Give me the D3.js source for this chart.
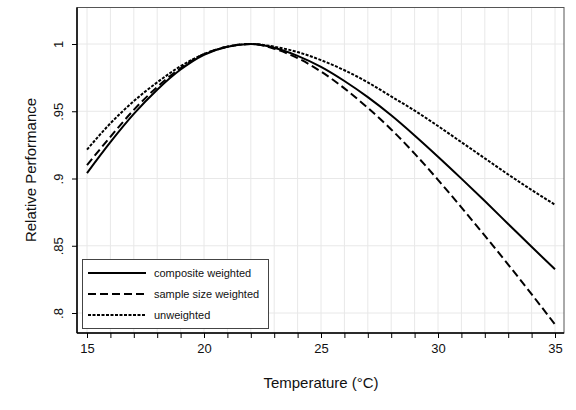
<!DOCTYPE html>
<html>
<head>
<meta charset="utf-8">
<script src="https://cdn.jsdelivr.net/npm/d3@7"></script>
<style>
  body { margin: 0; background: #fff; }
  svg { font-family: "Liberation Sans", Arial, sans-serif; }
</style>
</head>
<body>
<div id="graph"></div>
<script>
const temps = [15, 16, 17, 18, 19, 20, 21, 22, 23, 24, 25, 26, 27, 28, 29, 30, 31, 32, 33, 34, 35];
const composite = [.904, .927, .948, .966, .981, .992, .998, 1, .9972, .9912, .983, .9725, .9605, .947, .932, .9162, .8999, .8832, .8662, .8492, .8325];
const sampleSize = [.910, .931, .951, .968, .982, .9925, .998, 1, .9965, .9895, .9795, .967, .9525, .9365, .9185, .899, .8785, .8575, .836, .814, .7915];
const unweighted = [.9215, .941, .9575, .9715, .9835, .9925, .998, 1, .998, .994, .988, .9805, .9715, .961, .9505, .939, .927, .915, .903, .8915, .8805];
const xTicks = [15, 20, 25, 30, 35];
const yTicks = [.8, .85, .9, .95, 1];
const yLabels = ['.8', '.85', '.9', '.95', '1'];
const seriesNames = ['composite weighted', 'sample size weighted', 'unweighted'];

const w = 576, h = 410;
const pLeft = 77, pRight = 564, pTop = 7.5, pBottom = 333;

const xScale = d3.scaleLinear().domain([15, 35]).range([87, 555]);
const yScale = d3.scaleLinear().domain([.8, 1]).range([313, 44]);

const svg = d3.select('#graph').append('svg')
  .attr('width', w).attr('height', h);

// grid
svg.append('g').selectAll('line').data(d3.range(15, 36)).enter().append('line')
  .attr('x1', d => xScale(d)).attr('x2', d => xScale(d))
  .attr('y1', pTop).attr('y2', pBottom)
  .attr('stroke', '#e8e8e8').attr('stroke-width', 1);
svg.append('g').selectAll('line').data(yTicks).enter().append('line')
  .attr('x1', pLeft).attr('x2', pRight)
  .attr('y1', d => yScale(d)).attr('y2', d => yScale(d))
  .attr('stroke', '#e8e8e8').attr('stroke-width', 1);

// frame
svg.append('rect')
  .attr('x', pLeft).attr('y', pTop).attr('width', pRight - pLeft).attr('height', pBottom - pTop)
  .attr('fill', 'none').attr('stroke', '#555').attr('stroke-width', 1);

// curves
const styles = [
  { data: composite, dash: null },
  { data: sampleSize, dash: '8,4' },
  { data: unweighted, dash: '3,1.5' }
];
const line = d3.line()
  .x((d, i) => xScale(temps[i]))
  .y(d => yScale(d))
  .curve(d3.curveMonotoneX);
styles.forEach(s => {
  svg.append('path')
    .attr('d', line(s.data))
    .attr('fill', 'none')
    .attr('stroke', '#000')
    .attr('stroke-width', 2)
    .attr('stroke-dasharray', s.dash);
});

// axes
const xAxis = d3.axisBottom(xScale).tickValues(d3.range(15, 36)).tickSize(5)
  .tickFormat(d => xTicks.includes(d) ? d : '');
const gx = svg.append('g').attr('transform', 'translate(0,' + pBottom + ')').call(xAxis);
gx.select('.domain').attr('d', 'M' + pLeft + ',0H' + pRight).attr('stroke', '#000').attr('stroke-width', 1.5);
gx.selectAll('text').attr('font-size', 13).attr('fill', '#111')
  .attr('font-family', '"Liberation Sans", Arial, sans-serif').attr('dy', '0.95em');

const yAxis = d3.axisLeft(yScale).tickValues(yTicks).tickSize(5)
  .tickFormat((d, i) => yLabels[i]);
const gy = svg.append('g').attr('transform', 'translate(' + pLeft + ',0)').call(yAxis);
gy.select('.domain').attr('d', 'M0,' + pTop + 'V' + pBottom).attr('stroke', '#000').attr('stroke-width', 1.5);
gy.selectAll('text')
  .attr('font-size', 13).attr('fill', '#111')
  .attr('font-family', '"Liberation Sans", Arial, sans-serif')
  .attr('x', null).attr('dy', null)
  .attr('text-anchor', 'middle')
  .attr('transform', 'translate(-14,0) rotate(-90)');

// axis titles
svg.append('text')
  .attr('x', 321).attr('y', 388)
  .attr('text-anchor', 'middle').attr('font-size', 15).attr('fill', '#111')
  .text('Temperature (°C)');
svg.append('text')
  .attr('transform', 'translate(36,170) rotate(-90)')
  .attr('text-anchor', 'middle').attr('font-size', 15).attr('fill', '#111')
  .text('Relative Performance');

// legend
const legend = svg.append('g');
legend.append('rect')
  .attr('x', 82.5).attr('y', 259.5).attr('width', 186).attr('height', 69)
  .attr('fill', '#fff').attr('stroke', '#444').attr('stroke-width', 1);
styles.forEach((s, i) => {
  const y = 273 + i * 21;
  legend.append('line')
    .attr('x1', 88).attr('x2', 146).attr('y1', y).attr('y2', y)
    .attr('stroke', '#000').attr('stroke-width', 2)
    .attr('stroke-dasharray', s.dash);
  legend.append('text')
    .attr('x', 154).attr('y', y + 4)
    .attr('font-size', 11).attr('fill', '#111')
    .text(seriesNames[i]);
});
</script>
</body>
</html>
